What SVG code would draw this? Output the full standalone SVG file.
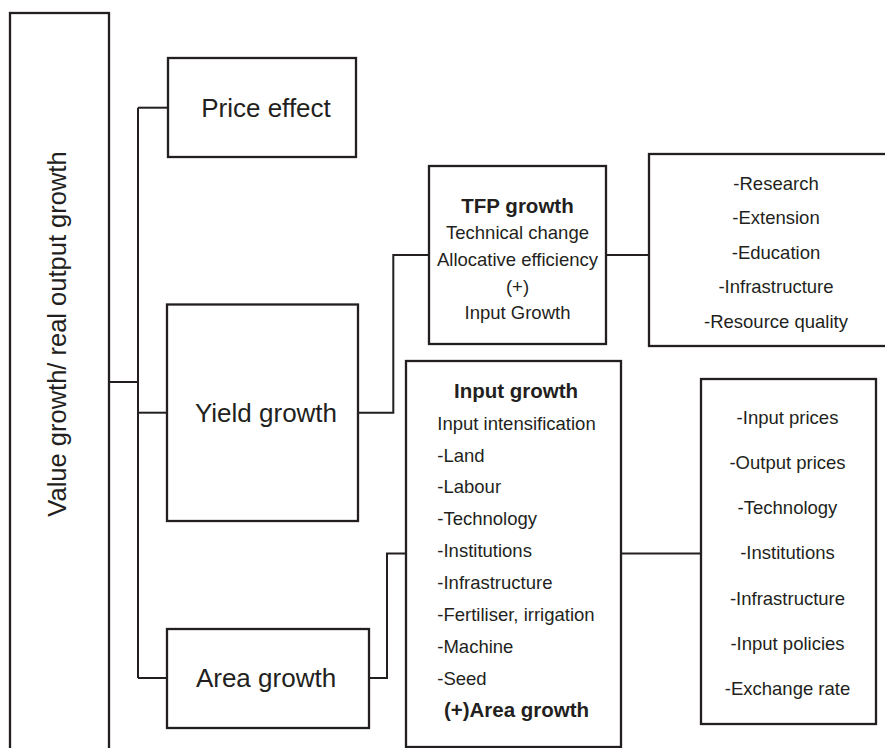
<svg xmlns="http://www.w3.org/2000/svg" width="885" height="748" viewBox="0 0 885 748">
<style>
.box{fill:#fff;stroke:#231f20;stroke-width:2.3}
.con{fill:none;stroke:#231f20;stroke-width:2}
text{font-family:"Liberation Sans",Arial,sans-serif;fill:#231f20}
.big{font-size:26px;text-anchor:middle}
.sm{font-size:18.5px}
.c{text-anchor:middle}
.b{font-weight:bold;font-size:20.5px;text-anchor:middle}
</style>
<rect width="885" height="748" fill="#fff"/>
<g id="connectors">
<path class="con" d="M109 382H138" stroke-width="3"/>
<path class="con" d="M138 107.7V678"/>
<path class="con" d="M138 107.7H168"/>
<path class="con" d="M138 412.7H167"/>
<path class="con" d="M138 678H167"/>
<path class="con" d="M358 412.7H393.3V255H429"/>
<path class="con" d="M369 678H387V553.5H406"/>
<path class="con" d="M606 255H649"/>
<path class="con" d="M621 553.5H701"/>
</g>
<g id="value-growth">
<rect class="box" x="10" y="13" width="99" height="745"/>
<text class="big" transform="translate(66 334) rotate(-90)" style="font-size:25.5px">Value growth/ real output growth</text>
</g>
<g id="price-effect">
<rect class="box" x="168" y="58" width="188" height="99"/>
<text class="big" x="266" y="117">Price effect</text>
</g>
<g id="yield-growth">
<rect class="box" x="167" y="304.5" width="191" height="216.5"/>
<text class="big" x="266" y="422">Yield growth</text>
</g>
<g id="area-growth">
<rect class="box" x="167" y="629" width="202" height="99"/>
<text class="big" x="266" y="687">Area growth</text>
</g>
<g id="tfp-growth">
<rect class="box" x="429" y="166" width="177" height="178"/>
<text class="b" x="517.5" y="212.7">TFP growth</text>
<text class="sm c" x="517.5" y="239.3">Technical change</text>
<text class="sm c" x="517.5" y="266">Allocative efficiency</text>
<text class="sm c" x="517.5" y="292.7">(+)</text>
<text class="sm c" x="517.5" y="319.3">Input Growth</text>
</g>
<g id="tfp-drivers">
<rect class="box" x="649" y="154" width="260" height="192"/>
<text class="sm c" x="776" y="189.5">-Research</text>
<text class="sm c" x="776" y="224">-Extension</text>
<text class="sm c" x="776" y="258.5">-Education</text>
<text class="sm c" x="776" y="293">-Infrastructure</text>
<text class="sm c" x="776" y="327.5">-Resource quality</text>
</g>
<g id="input-growth">
<rect class="box" x="406" y="361" width="215" height="386"/>
<text class="b" x="516" y="397.7">Input growth</text>
<text class="sm" x="437.3" y="429.6">Input intensification</text>
<text class="sm" x="437.3" y="461.5">-Land</text>
<text class="sm" x="437.3" y="493.4">-Labour</text>
<text class="sm" x="437.3" y="525.3">-Technology</text>
<text class="sm" x="437.3" y="557.2">-Institutions</text>
<text class="sm" x="437.3" y="589.1">-Infrastructure</text>
<text class="sm" x="437.3" y="621">-Fertiliser, irrigation</text>
<text class="sm" x="437.3" y="652.9">-Machine</text>
<text class="sm" x="437.3" y="684.8">-Seed</text>
<text class="b" x="516.5" y="716.7">(+)Area growth</text>
</g>
<g id="input-drivers">
<rect class="box" x="701" y="379" width="175" height="345"/>
<text class="sm c" x="787.5" y="424">-Input prices</text>
<text class="sm c" x="787.5" y="469">-Output prices</text>
<text class="sm c" x="787.5" y="514">-Technology</text>
<text class="sm c" x="787.5" y="559">-Institutions</text>
<text class="sm c" x="787.5" y="604.5">-Infrastructure</text>
<text class="sm c" x="787.5" y="650">-Input policies</text>
<text class="sm c" x="787.5" y="695">-Exchange rate</text>
</g>
</svg>
